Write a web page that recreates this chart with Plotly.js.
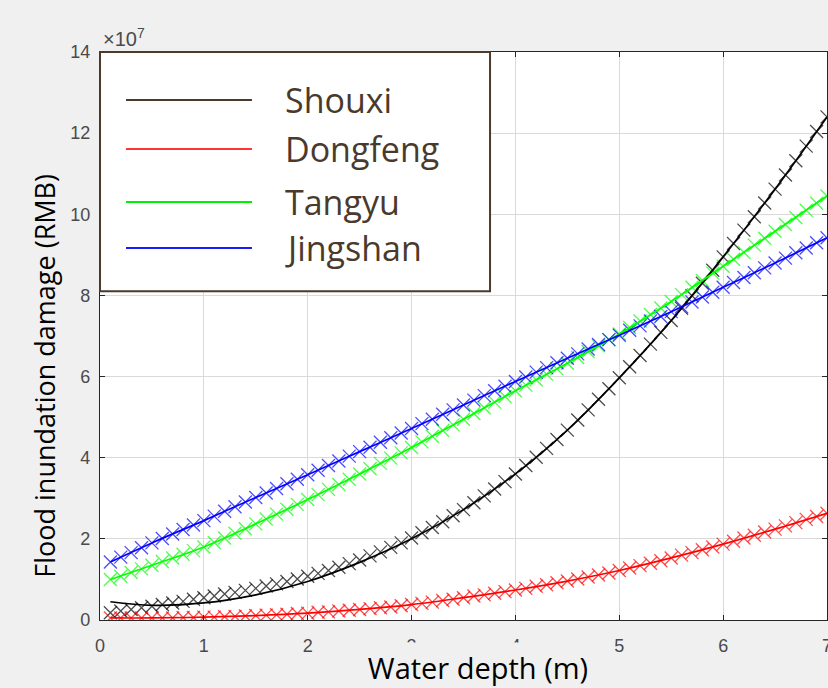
<!DOCTYPE html>
<html>
<head>
<meta charset="utf-8">
<script src="https://cdn.plot.ly/plotly-3.0.1.min.js"></script>
<style>
  html, body { margin: 0; padding: 0; background: #ffffff; }
  #chart { width: 828px; height: 688px; }
</style>
</head>
<body>
<div id="chart"></div>
<script>
// ---- data (damage in units of 1e7 RMB) ----
const seriesNames = ["Shouxi", "Dongfeng", "Tangyu", "Jingshan"];
const seriesColors = ["#000000", "#ff0000", "#00ff00", "#0000ff"];

// fitted curves
const fitDepth = [0.1, 0.5, 1.0, 1.5, 2.0, 2.5, 3.0, 3.5, 4.0, 4.5, 5.0, 5.5, 6.0, 6.5, 7.0];
const fitShouxi   = [0.45, 0.36, 0.42, 0.62, 0.95, 1.42, 2.00, 2.72, 3.60, 4.68, 5.97, 7.38, 8.95, 10.62, 12.40];
const fitDongfeng = [0.05, 0.05, 0.07, 0.11, 0.17, 0.26, 0.38, 0.55, 0.74, 0.96, 1.22, 1.53, 1.87, 2.24, 2.63];
const fitTangyu   = [1.00, 1.35, 1.80, 2.37, 2.97, 3.60, 4.25, 4.95, 5.65, 6.33, 7.05, 7.85, 8.72, 9.58, 10.45];
const fitJingshan = [1.43, 1.90, 2.45, 3.02, 3.58, 4.15, 4.72, 5.30, 5.88, 6.45, 7.02, 7.60, 8.20, 8.80, 9.42];

// computed points
const depth = [0.1,0.2,0.3,0.4,0.5,0.6,0.7,0.8,0.9,1.0,
               1.1,1.2,1.3,1.4,1.5,1.6,1.7,1.8,1.9,2.0,
               2.1,2.2,2.3,2.4,2.5,2.6,2.7,2.8,2.9,3.0,
               3.1,3.2,3.3,3.4,3.5,3.6,3.7,3.8,3.9,4.0,
               4.1,4.2,4.3,4.4,4.5,4.6,4.7,4.8,4.9,5.0,
               5.1,5.2,5.3,5.4,5.5,5.6,5.7,5.8,5.9,6.0,
               6.1,6.2,6.3,6.4,6.5,6.6,6.7,6.8,6.9,7.0];
const ptsShouxi = [0.18,0.22,0.26,0.30,0.34,0.38,0.42,0.46,0.51,0.55,
                   0.59,0.64,0.68,0.73,0.78,0.84,0.89,0.95,1.01,1.08,
                   1.15,1.22,1.30,1.39,1.48,1.58,1.68,1.79,1.90,2.02,
                   2.15,2.28,2.42,2.57,2.72,2.89,3.06,3.23,3.41,3.60,
                   3.81,4.01,4.23,4.45,4.68,4.93,5.18,5.44,5.70,5.97,
                   6.24,6.52,6.80,7.09,7.38,7.68,7.99,8.30,8.62,8.95,
                   9.28,9.61,9.94,10.28,10.62,10.97,11.32,11.68,12.04,12.40];
const ptsDongfeng = [0.05,0.05,0.05,0.05,0.05,0.05,0.05,0.06,0.06,0.07,
                     0.07,0.08,0.09,0.10,0.11,0.12,0.13,0.14,0.16,0.17,
                     0.19,0.20,0.22,0.24,0.26,0.28,0.30,0.32,0.35,0.38,
                     0.41,0.44,0.48,0.51,0.55,0.59,0.62,0.66,0.70,0.74,
                     0.78,0.83,0.87,0.92,0.96,1.01,1.06,1.11,1.16,1.22,
                     1.28,1.34,1.40,1.46,1.53,1.60,1.66,1.73,1.80,1.87,
                     1.94,2.02,2.09,2.17,2.24,2.32,2.40,2.48,2.55,2.63];
const ptsTangyu = [1.00,1.08,1.17,1.26,1.35,1.44,1.53,1.62,1.71,1.80,
                   1.91,2.02,2.14,2.25,2.37,2.49,2.61,2.73,2.85,2.97,
                   3.09,3.22,3.34,3.47,3.60,3.73,3.86,3.99,4.12,4.25,
                   4.39,4.53,4.67,4.81,4.95,5.09,5.23,5.37,5.51,5.65,
                   5.79,5.92,6.06,6.19,6.33,6.47,6.62,6.76,6.91,7.05,
                   7.21,7.37,7.53,7.69,7.85,8.02,8.20,8.37,8.55,8.72,
                   8.89,9.06,9.24,9.41,9.58,9.75,9.92,10.10,10.27,10.45];
const ptsJingshan = [1.43,1.55,1.66,1.78,1.90,2.01,2.12,2.23,2.34,2.45,
                     2.56,2.68,2.79,2.91,3.02,3.13,3.24,3.36,3.47,3.58,
                     3.69,3.81,3.92,4.04,4.15,4.26,4.38,4.49,4.61,4.72,
                     4.84,4.95,5.07,5.18,5.30,5.42,5.53,5.65,5.76,5.88,
                     5.99,6.11,6.22,6.34,6.45,6.56,6.68,6.79,6.91,7.02,
                     7.14,7.25,7.37,7.48,7.60,7.72,7.84,7.96,8.08,8.20,
                     8.32,8.44,8.56,8.68,8.80,8.92,9.05,9.17,9.30,9.42];

const xTicks = [0, 1, 2, 3, 4, 5, 6, 7];
const yTicks = [0, 2, 4, 6, 8, 10, 12, 14];
const xTitle = "Water depth (m)";
const yTitle = "Flood inundation damage (RMB)";
const expLabel = "×10<sup>7</sup>";

// ---- traces ----
const fits = [fitShouxi, fitDongfeng, fitTangyu, fitJingshan];
const pts = [ptsShouxi, ptsDongfeng, ptsTangyu, ptsJingshan];
const traces = [];
for (let i = 0; i < 4; i++) {
  traces.push({
    x: depth, y: pts[i], type: "scatter", mode: "markers",
    showlegend: false, hoverinfo: "skip",
    marker: { symbol: "x-thin-open", size: 13, color: seriesColors[i], opacity: 0.7,
              line: { color: seriesColors[i], width: 1.3 } }
  });
}
for (let i = 0; i < 4; i++) {
  traces.push({
    x: fitDepth, y: fits[i], type: "scatter", mode: "lines", name: seriesNames[i],
    showlegend: false,
    line: { color: seriesColors[i], width: 1.7, shape: "spline", smoothing: 1 }
  });
}

// ---- legend box (drawn in paper coordinates, like the boxed MATLAB legend) ----
const legendInk = "#4a3a2c";
const legendLineColors = [legendInk, "#ff3333", "#00ee00", "#1a1aff"];
const legendRowsY = [0.9155, 0.8292, 0.7359, 0.6549];
const shapes = [{
  type: "rect", xref: "paper", yref: "paper", x0: 0, x1: 0.5365, y0: 0.579, y1: 1,
  fillcolor: "#ffffff", line: { color: legendInk, width: 2 }, layer: "above"
}];
const annotations = [];
for (let i = 0; i < 4; i++) {
  shapes.push({
    type: "line", xref: "paper", yref: "paper", x0: 0.0358, x1: 0.209,
    y0: legendRowsY[i], y1: legendRowsY[i],
    line: { color: legendLineColors[i], width: 2 }, layer: "above"
  });
  annotations.push({
    text: seriesNames[i], xref: "paper", yref: "paper", x: 0.2517, y: legendRowsY[i],
    xanchor: "left", yanchor: "middle", showarrow: false,
    font: { family: "Open Sans, sans-serif", size: 34, color: legendInk }
  });
}
annotations.push(
  { text: xTitle, xref: "paper", yref: "paper", x: 0.52, y: -0.083, xanchor: "center", yanchor: "middle",
    showarrow: false, bgcolor: "#f0f0f0", width: 262, height: 46,
    font: { family: "Open Sans, sans-serif", size: 29, color: "#000000" } },
  { text: yTitle, xref: "paper", yref: "paper", x: -0.0757, y: 0.43, xanchor: "center", yanchor: "middle",
    textangle: -90, showarrow: false,
    font: { family: "Open Sans, sans-serif", size: 27, color: "#000000" } },
  { text: expLabel, xref: "paper", yref: "paper", x: 0.002, y: 1, xanchor: "left", yanchor: "bottom",
    yshift: 0, showarrow: false,
    font: { family: "Liberation Sans, Arial, sans-serif", size: 20, color: "#4a4a4a" } }
);

const axisCommon = {
  showgrid: true, gridcolor: "#dadada", gridwidth: 1,
  showline: true, linecolor: "#262626", linewidth: 1.2, mirror: "ticks",
  ticks: "inside", ticklen: 5, tickcolor: "#262626", tickwidth: 1,
  zeroline: false, fixedrange: true, ticklabeloverflow: "allow",
  tickfont: { family: "Liberation Sans, Arial, sans-serif", size: 18, color: "#4a4a4a" }
};

const layout = {
  width: 828, height: 688,
  margin: { l: 100, r: 1, t: 52, b: 68 },
  paper_bgcolor: "#f0f0f0", plot_bgcolor: "#ffffff",
  showlegend: false,
  xaxis: Object.assign({}, axisCommon, { range: [0, 7], tickvals: xTicks, ticklabelstandoff: 9 }),
  yaxis: Object.assign({}, axisCommon, { range: [0, 14], tickvals: yTicks, ticklabelstandoff: 5 }),
  shapes: shapes,
  annotations: annotations
};

Plotly.newPlot("chart", traces, layout, { displayModeBar: false, staticPlot: true });
</script>
</body>
</html>
